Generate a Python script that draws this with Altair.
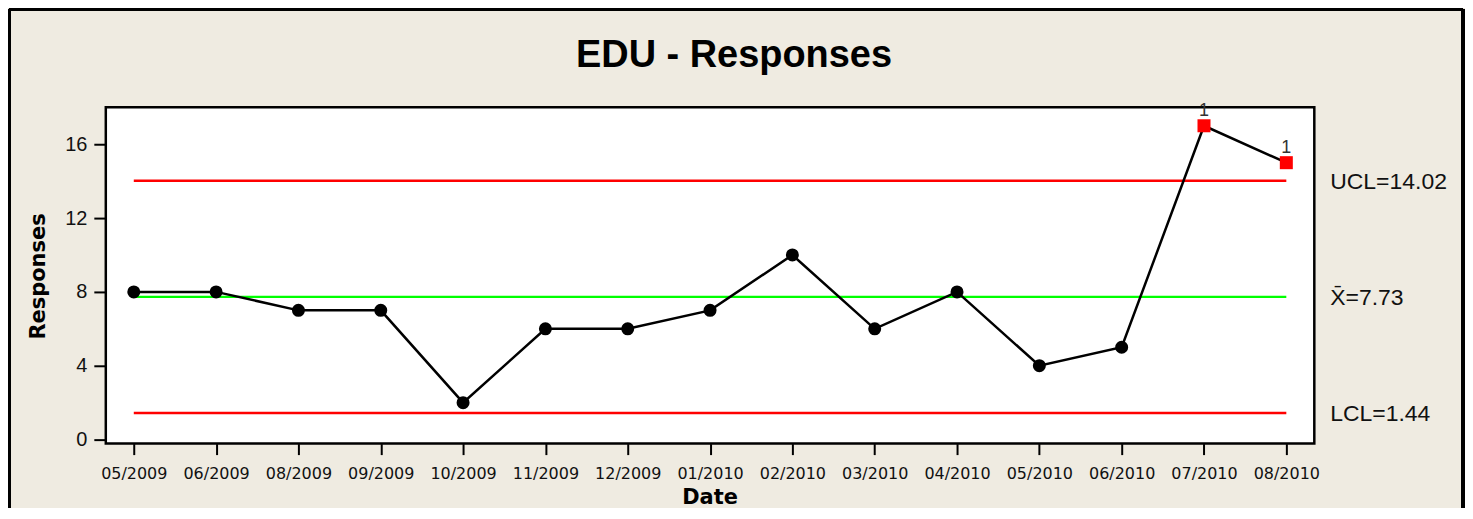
import altair as alt
import pandas as pd

dates = ["05/2009", "06/2009", "08/2009", "09/2009", "10/2009", "11/2009", "12/2009",
         "01/2010", "02/2010", "03/2010", "04/2010", "05/2010", "06/2010", "07/2010", "08/2010"]
values = [8, 8, 7, 7, 2, 6, 6, 7, 10, 6, 8, 4, 5, 17, 15]

limit_names = ["UCL", "Mean", "LCL"]
limit_values = [14.02, 7.73, 1.44]
limit_labels = ["UCL=14.02", "X\u0304=7.73", "LCL=1.44"]
limit_colors = ["#FF0000", "#00FF00", "#FF0000"]

y_ticks = [0, 4, 8, 12, 16]
title_text = ["EDU - Responses"]

ucl = limit_values[0]
df = pd.DataFrame({"date": dates, "value": values})
df["state"] = ["out" if v > ucl else "in" for v in values]
df["flag"] = ["1" if v > ucl else "" for v in values]

lim = pd.DataFrame({"name": limit_names, "value": limit_values, "label": limit_labels,
                    "start": dates[0], "end": dates[-1]})

FONT = "Liberation Sans"
BG = "#EFEBE1"

xscale = alt.Scale(type="point", domain=dates, padding=0.34)
yscale = alt.Scale(domain=[-0.22, 18.0], nice=False, zero=False)

x_axis = alt.Axis(title="Date", labelAngle=0, labelFont="DejaVu Sans", labelFontSize=16,
                  labelColor="#111", labelBaseline="alphabetic", labelPadding=24,
                  tickSize=11, tickWidth=2, tickColor="black", domain=False, grid=False,
                  titleFont="DejaVu Sans", titleFontSize=21, titleFontWeight="bold",
                  titleColor="black", titleBaseline="alphabetic", titleX=605, titleY=60)
y_axis = alt.Axis(title="Responses", values=y_ticks, labelFont=FONT, labelFontSize=20,
                  labelColor="#111", labelPadding=7, tickSize=12, tickWidth=2,
                  tickColor="black", domain=False, grid=False,
                  titleFont="DejaVu Sans", titleFontSize=21, titleFontWeight="bold",
                  titleColor="black", titleBaseline="alphabetic", titleAngle=270,
                  titleX=-61, titleY=169)


def X(field):
    return alt.X(field, type="nominal", scale=xscale, sort=dates, axis=x_axis)


def Y(field):
    return alt.Y(field, type="quantitative", scale=yscale, axis=y_axis)


limit_rules = alt.Chart(lim).mark_rule(strokeWidth=2.4).encode(
    x=X("start"), x2="end", y=Y("value"),
    color=alt.Color("name:N", scale=alt.Scale(domain=limit_names, range=limit_colors), legend=None),
)

limit_text = alt.Chart(lim).mark_text(align="left", baseline="middle", dx=44, dy=1,
                                      font=FONT, fontSize=23, color="#111").encode(
    x=X("end"), y=Y("value"), text="label:N",
)

line = alt.Chart(df).mark_line(color="black", strokeWidth=2.5).encode(x=X("date"), y=Y("value"))

pts_in = alt.Chart(df).transform_filter(alt.datum.state == "in").mark_point(
    shape="circle", filled=True, color="black", size=170, opacity=1).encode(
    x=X("date"), y=Y("value"))

pts_out = alt.Chart(df).transform_filter(alt.datum.state == "out").mark_point(
    shape="square", filled=True, color="#FF0000", size=170, opacity=1).encode(
    x=X("date"), y=Y("value"))

flags = alt.Chart(df).transform_filter(alt.datum.state == "out").mark_text(
    baseline="alphabetic", dy=-10, font=FONT, fontSize=18, color="#333").encode(
    x=X("date"), y=Y("value"), text="flag:N")

title = alt.Chart(pd.DataFrame({"t": title_text})).mark_text(
    font=FONT, fontSize=38, fontWeight="bold", color="black", align="center",
    baseline="alphabetic").encode(x=alt.value(629.5), y=alt.value(-40), text="t:N")

frame = alt.Chart(df).mark_rule(color="black", strokeWidth=3).encode(
    x=alt.value(-97), x2=alt.value(1360), y=alt.value(-98))
frame_l = alt.Chart(df).mark_rule(color="black", strokeWidth=3).encode(
    x=alt.value(-97), y=alt.value(-98), y2=alt.value(420))
frame_r = alt.Chart(df).mark_rule(color="black", strokeWidth=3).encode(
    x=alt.value(1360), y=alt.value(-98), y2=alt.value(420))

chart = alt.layer(limit_rules, line, pts_in, pts_out, flags, limit_text, title,
                  frame, frame_l, frame_r).properties(
    width=1211, height=337,
    autosize=alt.AutoSizeParams(type="none"),
    padding={"left": 98, "top": 99, "right": 151, "bottom": 64},
    background=BG,
).configure_view(fill="white", stroke="black", strokeWidth=2.5)

chart.save("out.html", embed_options={"renderer": "svg", "actions": False})
